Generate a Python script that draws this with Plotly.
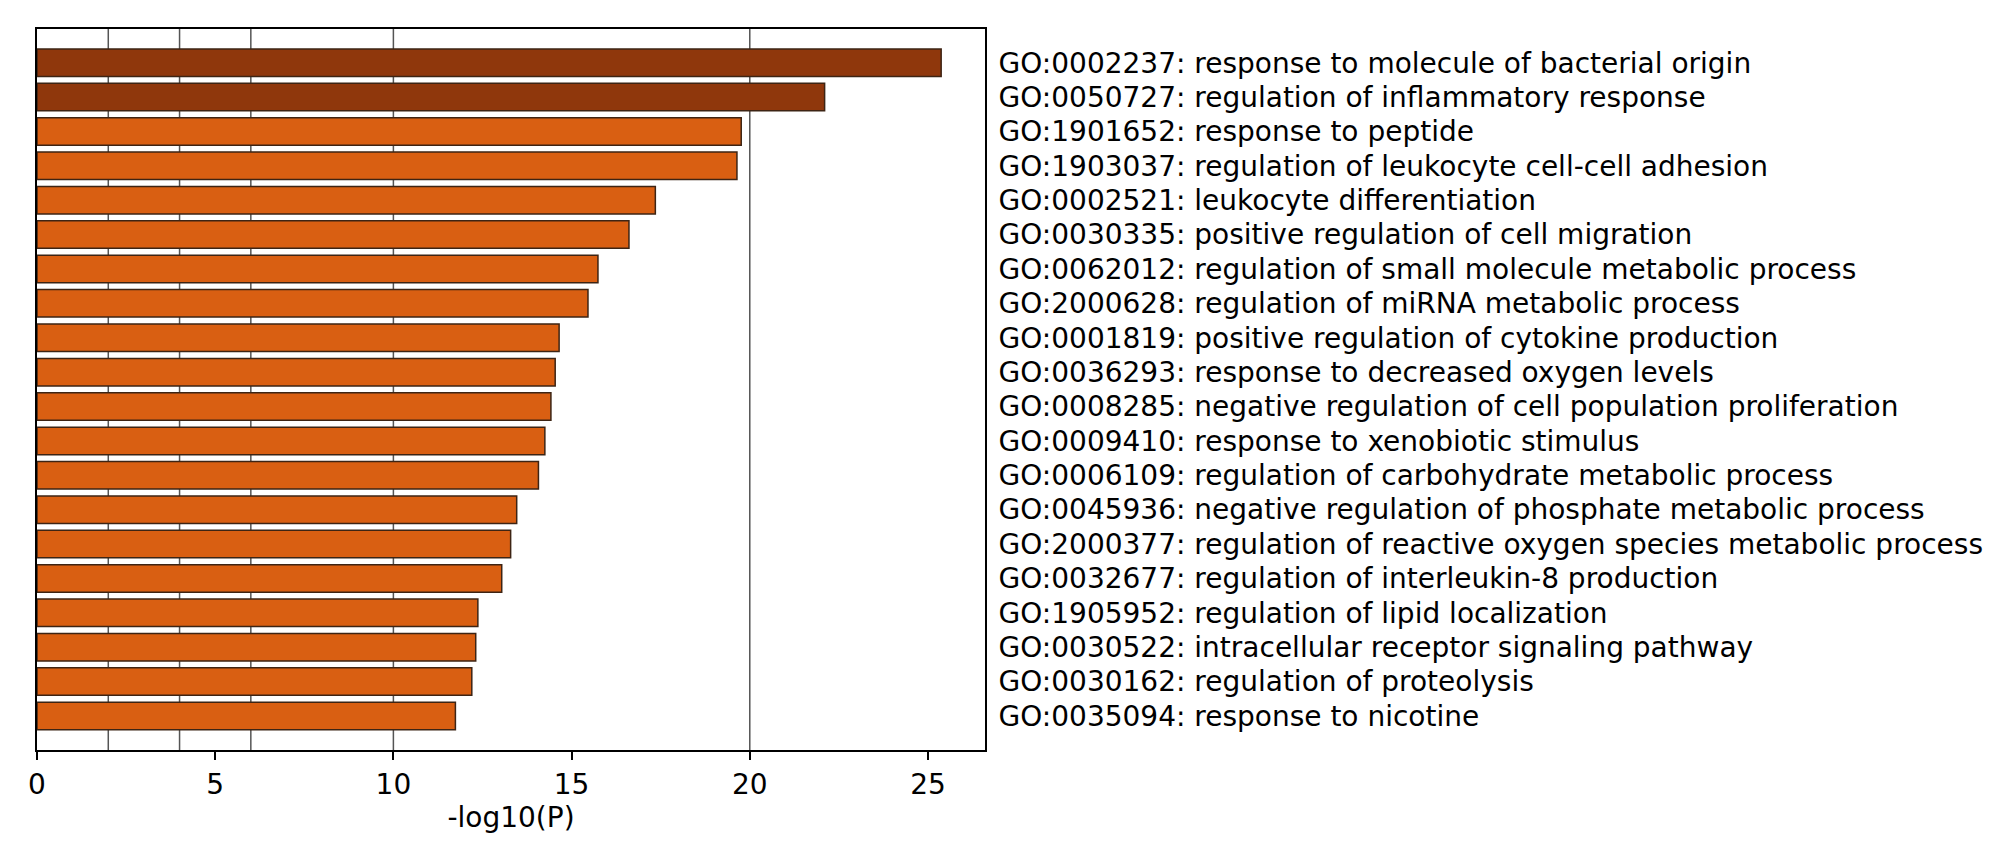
import plotly.graph_objects as go

terms = [
    "GO:0002237: response to molecule of bacterial origin",
    "GO:0050727: regulation of inflammatory response",
    "GO:1901652: response to peptide",
    "GO:1903037: regulation of leukocyte cell-cell adhesion",
    "GO:0002521: leukocyte differentiation",
    "GO:0030335: positive regulation of cell migration",
    "GO:0062012: regulation of small molecule metabolic process",
    "GO:2000628: regulation of miRNA metabolic process",
    "GO:0001819: positive regulation of cytokine production",
    "GO:0036293: response to decreased oxygen levels",
    "GO:0008285: negative regulation of cell population proliferation",
    "GO:0009410: response to xenobiotic stimulus",
    "GO:0006109: regulation of carbohydrate metabolic process",
    "GO:0045936: negative regulation of phosphate metabolic process",
    "GO:2000377: regulation of reactive oxygen species metabolic process",
    "GO:0032677: regulation of interleukin-8 production",
    "GO:1905952: regulation of lipid localization",
    "GO:0030522: intracellular receptor signaling pathway",
    "GO:0030162: regulation of proteolysis",
    "GO:0035094: response to nicotine",
]
neg_log10_p = [25.37, 22.10, 19.76, 19.64, 17.35, 16.61, 15.74, 15.46, 14.65, 14.54,
               14.42, 14.25, 14.07, 13.46, 13.29, 13.04, 12.37, 12.31, 12.20, 11.74]
bar_colors = ["#8f370c", "#8f370c"] + ["#d95f12"] * 18
x_ticks = [0, 5, 10, 15, 20, 25]
grid_vals = [2, 4, 6, 10, 20]

fig = go.Figure()
fig.add_trace(go.Bar(
    x=neg_log10_p,
    y=terms,
    orientation="h",
    width=0.8,
    marker=dict(color=bar_colors, line=dict(color="#3d2414", width=1.5)),
))

for v in grid_vals:
    fig.add_shape(type="line", xref="x", yref="y domain", x0=v, x1=v, y0=0, y1=1,
                  line=dict(color="#555555", width=1.5), layer="below")

fig.update_layout(
    width=2000, height=849,
    margin=dict(l=29, r=1023, t=21, b=107),
    paper_bgcolor="white", plot_bgcolor="white",
    showlegend=False,
    bargap=0.2,
    font=dict(family="DejaVu Sans", color="black"),
)
fig.update_xaxes(
    range=[0, 26.6],
    tickvals=x_ticks,
    ticktext=[str(t) for t in x_ticks],
    ticks="outside", ticklen=8, tickwidth=1.5, tickcolor="black",
    tickfont=dict(size=28, family="DejaVu Sans", color="black"),
    showgrid=False, zeroline=False,
    showline=True, linecolor="black", linewidth=2, mirror=True,
    title=dict(text="-log10(P)", font=dict(size=28, family="DejaVu Sans", color="black"), standoff=8),
)
fig.update_yaxes(
    type="category",
    categoryorder="array", categoryarray=terms,
    range=[19.99, -0.98],
    side="right",
    ticks="", showgrid=False, zeroline=False,
    showline=True, linecolor="black", linewidth=2, mirror=True,
    tickfont=dict(size=28, family="DejaVu Sans", color="black"),
    ticklabelstandoff=6,
)

fig.write_html("out.html")
